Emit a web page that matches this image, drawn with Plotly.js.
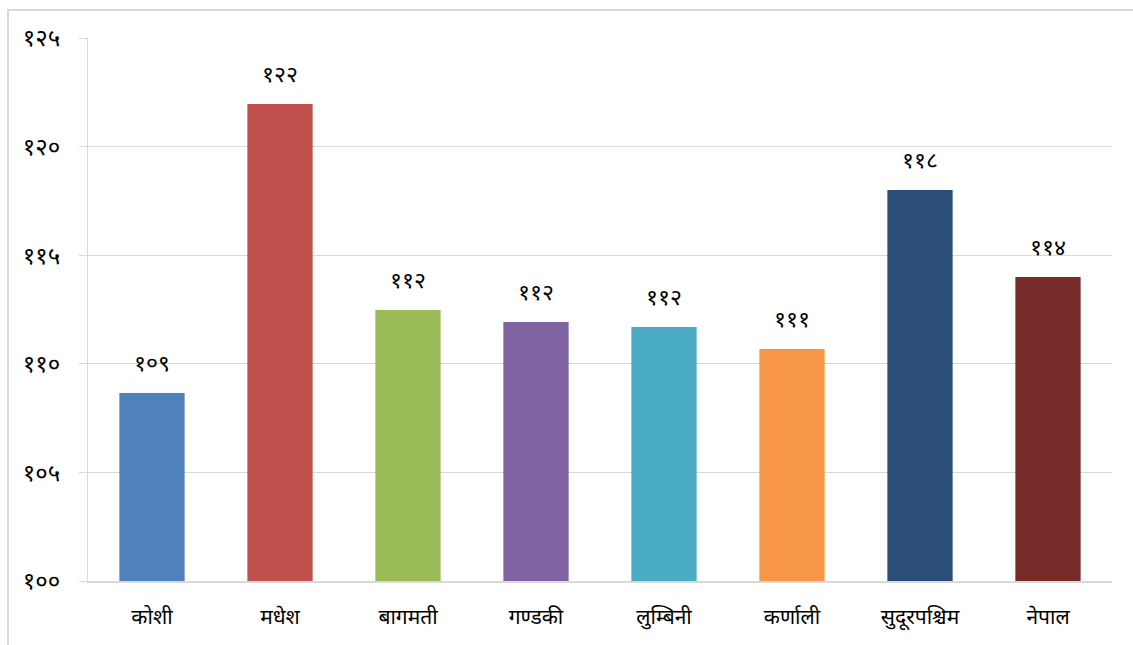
<!DOCTYPE html>
<html>
<head>
<meta charset="utf-8">
<script src="https://cdn.plot.ly/plotly-3.0.1.min.js"></script>
<style>
  html, body { margin: 0; padding: 0; background: #fff; overflow: hidden; }
  #frame { position: absolute; left: 7px; top: 9px; width: 1200px; height: 700px; border: 2px solid #d9d9d9; box-sizing: border-box; }
  #chart { position: absolute; left: 0; top: 0; width: 1133px; height: 645px; }
</style>
</head>
<body>
<div id="frame"></div>
<div id="chart"></div>
<script>
const categories = ["कोशी", "मधेश", "बागमती", "गण्डकी", "लुम्बिनी", "कर्णाली", "सुदूरपश्चिम", "नेपाल"];
const values = [108.66, 121.96, 112.48, 111.92, 111.7, 110.68, 118.0, 114.0];
const valueLabels = ["१०९", "१२२", "११२", "११२", "११२", "१११", "११८", "११४"];
const barColors = ["#4F81BD", "#C0504D", "#9BBB59", "#8064A2", "#4BACC6", "#F79646", "#2C4D75", "#772C2A"];
const tickVals = [100, 105, 110, 115, 120, 125];
const tickText = ["१००", "१०५", "११०", "११५", "१२०", "१२५"];

const font = "'Noto Sans Devanagari', 'Noto Sans', 'Lohit Devanagari', 'Mangal', sans-serif";

const trace = {
  type: "bar",
  x: categories,
  y: values,
  base: 0,
  marker: { color: barColors, line: { width: 0 } },
  hoverinfo: "none"
};

const annotations = categories.map((c, i) => ({
  x: c, y: values[i], xref: "x", yref: "y",
  text: valueLabels[i], showarrow: false,
  yanchor: "bottom", yshift: 11,
  font: { family: font, size: 23, color: "#000" }
}));

const layout = {
  width: 1133, height: 645,
  margin: { l: 88, r: 21, t: 38, b: 64 },
  paper_bgcolor: "rgba(0,0,0,0)",
  plot_bgcolor: "rgba(0,0,0,0)",
  showlegend: false,
  bargap: 0.49,
  font: { family: font, color: "#000" },
  xaxis: {
    type: "category",
    showgrid: false,
    showline: true, linecolor: "#d9d9d9", linewidth: 1.5,
    ticks: "", ticklabelstandoff: 16,
    tickfont: { family: font, size: 21, color: "#000" },
    automargin: false
  },
  yaxis: {
    range: [100, 125],
    tickvals: tickVals, ticktext: tickText,
    showgrid: true, gridcolor: "#d9d9d9", gridwidth: 1,
    zeroline: false,
    showline: true, linecolor: "#d9d9d9", linewidth: 1,
    ticks: "outside", ticklen: 8, tickcolor: "#d9d9d9",
    ticklabelstandoff: 14,
    tickfont: { family: font, size: 24, color: "#000" },
    automargin: false
  },
  annotations: annotations
};

Plotly.newPlot("chart", [trace], layout, { displayModeBar: false, staticPlot: true });
</script>
</body>
</html>
